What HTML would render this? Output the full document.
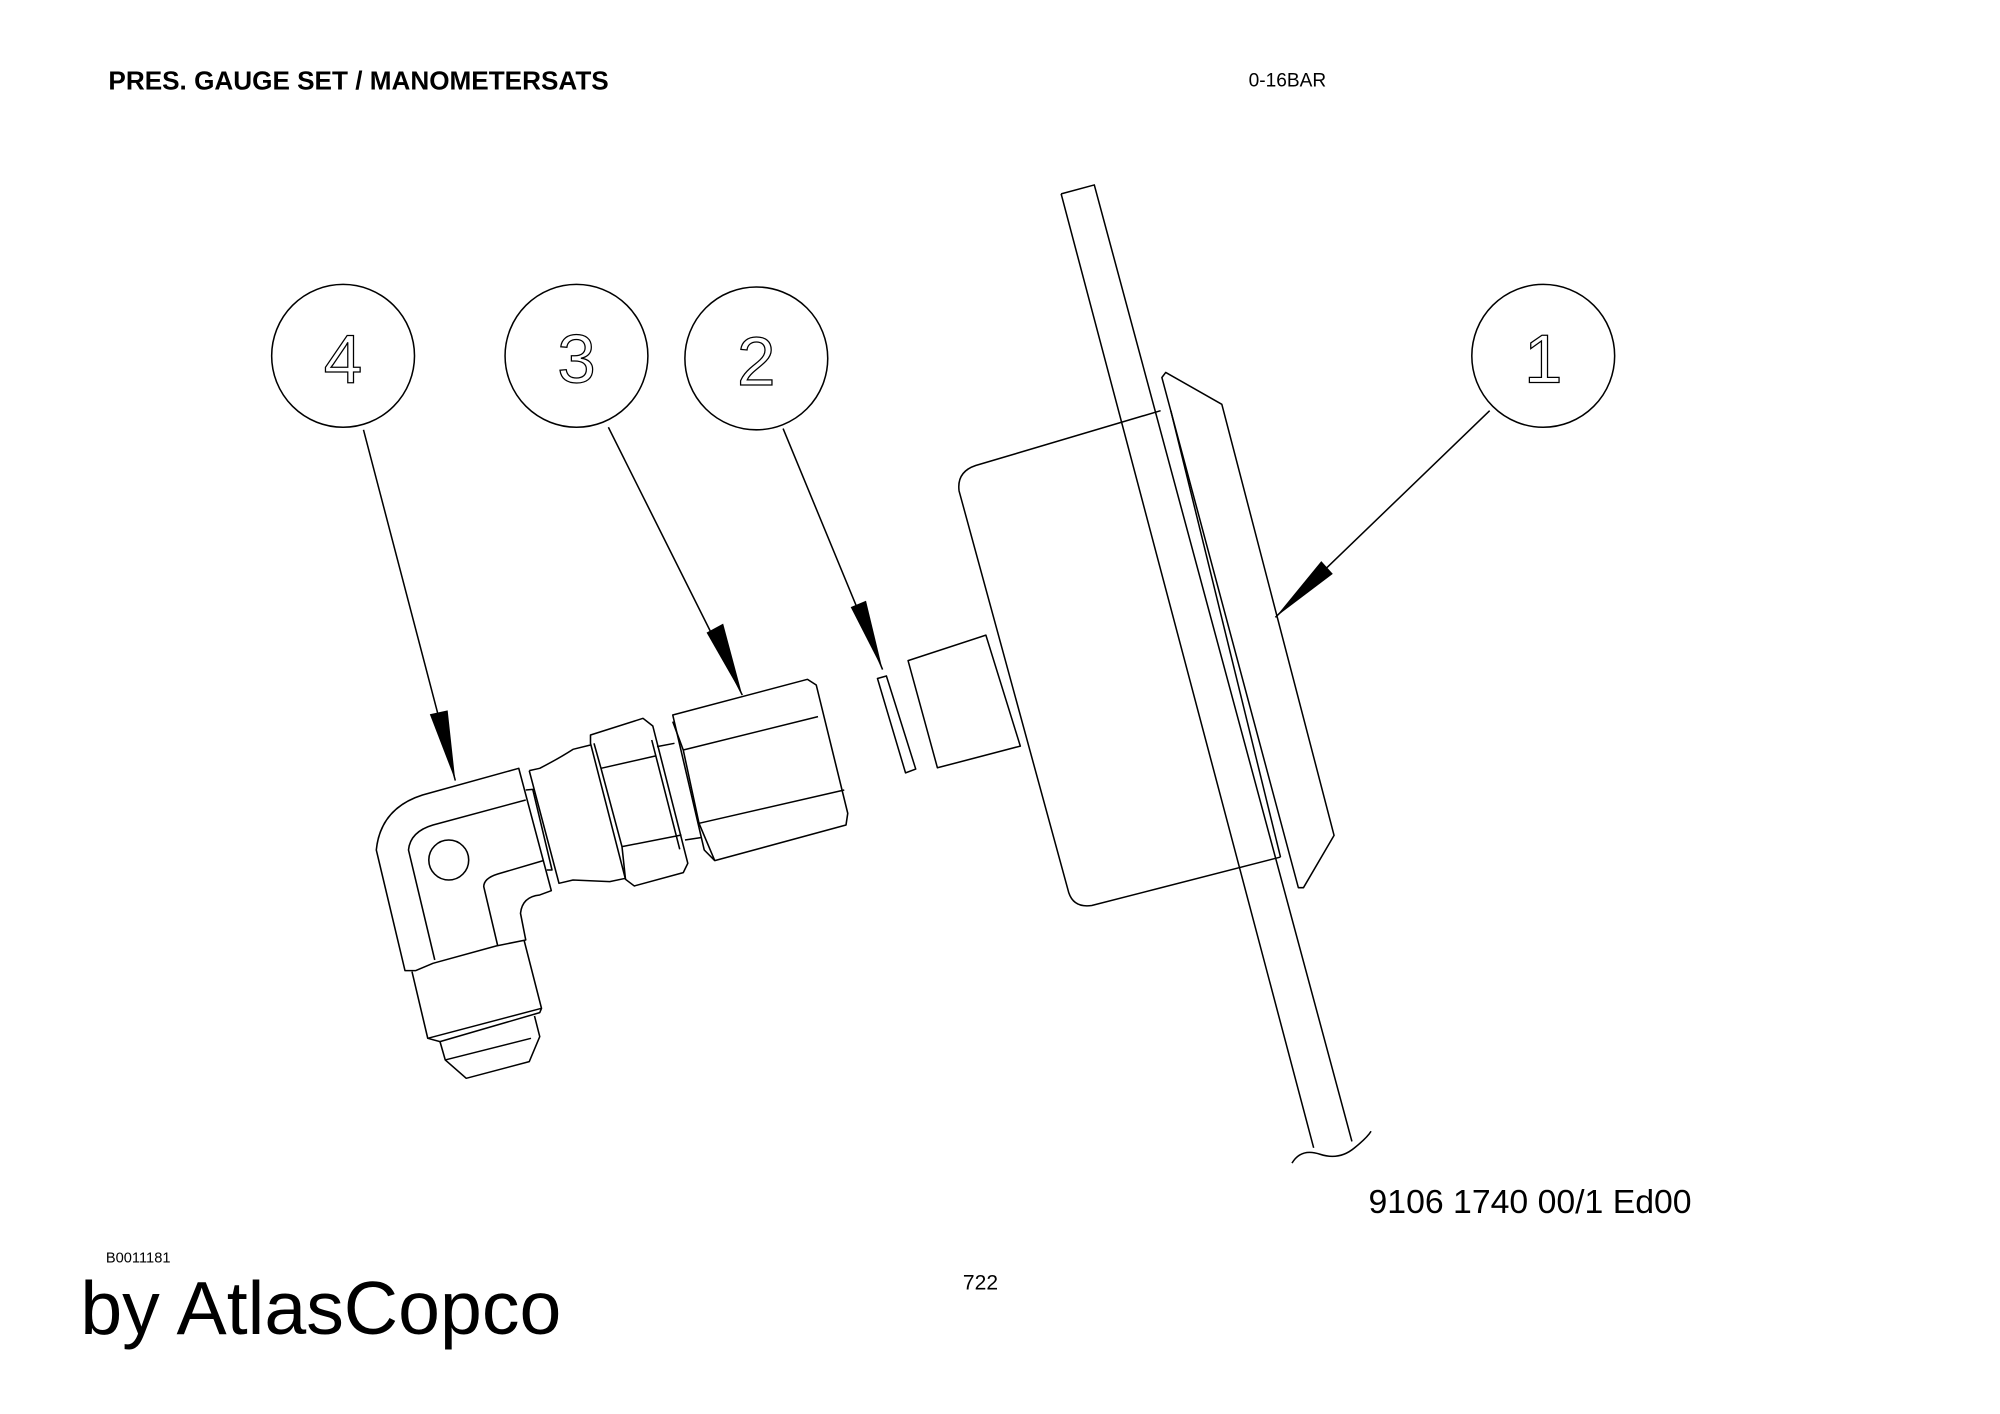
<!DOCTYPE html>
<html><head><meta charset="utf-8"><style>
html,body{margin:0;padding:0;background:#fff;}
svg{display:block}
text{font-family:"Liberation Sans",Arial,sans-serif;}
</style></head><body>
<svg width="2000" height="1414" viewBox="0 0 2000 1414" xmlns="http://www.w3.org/2000/svg">
<rect width="2000" height="1414" fill="#fff"/>
<g transform="scale(1.2754)" fill="none" stroke="#000" stroke-width="1.2" stroke-linejoin="round">
  <path d="M832,152 L858,145 L1060,895 M832,152 L1030,900"/>
  <path d="M1013,912 Q1020,900 1035,905 Q1050,910 1062,900 Q1072,892 1075,887"/>
  <path d="M911,296 L914,292 L958,317 L1046,655 L1022,696 L1018,696 Z"/>
  <path d="M918,322 L1004,672"/>
  <path d="M910,322 L765,365 Q750,370 752,385 L838,700 Q842,712 856,710 L1004,672"/>
  <path d="M712,518 L773,498 L800,585 L735,602 Z"/>
  <path d="M688,532 L695,530 L718,603 L710,606 Z"/>
  <circle cx="269" cy="279" r="56"/>
  <circle cx="452" cy="279" r="56"/>
  <circle cx="593" cy="281" r="56"/>
  <circle cx="1210" cy="279" r="56"/>
  <path d="M285,337 L357,612"/>
  <path d="M477,335 L582,545"/>
  <path d="M614,336 L692,525"/>
  <path d="M1168,322 L1000,484"/>
</g>
<g transform="scale(1.2754)" fill="#000" stroke="none">
  <polygon points="357,612 337,560 351,557"/>
  <polygon points="582,545 554,496 567,489"/>
  <polygon points="692,525 667,476 679,471"/>
  <polygon points="1000,484 1036,440 1045,450"/>
</g>
<g transform="translate(349,650) scale(0.35,0.3333)" fill="none" stroke="#000" stroke-width="4.5" stroke-linejoin="round">
  <path d="M485,355 L210,435 Q90,475 78,600 L160,962 L190,962 L240,940 L420,888 L505,870 L490,790 Q495,740 545,735 L578,722 Z"/>
  <path d="M505,450 L240,525 Q175,545 170,600 L245,930"/>
  <path d="M555,632 L425,672 Q385,685 385,710 L425,888"/>
  <ellipse cx="285" cy="630" rx="57" ry="60"/>
  <path d="M180,965 L225,1165 L260,1175 L545,1088 L550,1075 L500,870"/>
  <path d="M225,1165 L550,1075"/>
  <path d="M260,1175 L275,1230 L335,1285 L515,1235 L545,1160 L530,1098"/>
  <path d="M275,1230 L520,1165"/>
  <path d="M505,420 L525,418 L580,660 L565,660"/>
  <path d="M515,362 L545,355 Q600,325 640,298 L690,285 M515,362 L600,700 L640,690 L745,695 L790,685"/>
  <path d="M690,255 L840,205 L868,228 L968,640 L955,668 L815,708 L790,688 L690,280 Z"/>
  <path d="M720,355 L875,318 M780,590 L950,555 M700,280 L720,355 L780,590 L790,688 M865,270 L945,598"/>
  <path d="M880,290 L930,280 M960,570 L1005,563"/>
  <path d="M925,195 L1310,88 L1335,105 L1425,490 L1420,525 L1045,632 L1015,600 Z"/>
  <path d="M955,300 L1340,200 M1000,520 L1415,420 M925,215 L955,300 L1000,520 L1045,632"/>
</g>
<g transform="scale(1.2754)">
  <text x="85" y="70" font-size="20.5" font-weight="bold">PRES. GAUGE SET / MANOMETERSATS</text>
  <text x="979" y="68" font-size="15">0-16BAR</text>
  <text x="1073" y="951" font-size="26.5">9106 1740 00/1  Ed00</text>
  <text x="83" y="990" font-size="11.5">B0011181</text>
  <text x="755" y="1011" font-size="16.5">722</text>
  <text x="63" y="1046" font-size="59">by AtlasCopco</text>
  <g font-size="54" fill="none" stroke="#000" stroke-width="1" text-anchor="middle">
    <text x="269" y="300">4</text>
    <text x="452" y="300">3</text>
    <text x="593" y="302">2</text>
    <text x="1210" y="300">1</text>
  </g>
</g>
</svg>
</body></html>
